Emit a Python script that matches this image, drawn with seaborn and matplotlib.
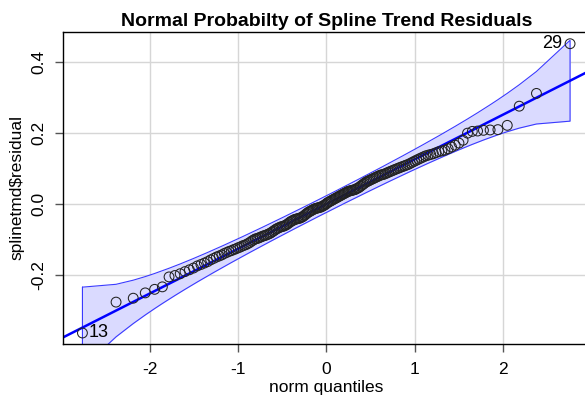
import numpy as np
import pandas as pd
import seaborn as sns
import matplotlib.pyplot as plt
from statistics import NormalDist

# sorted residuals (n = 173)
residuals = [
    -0.363, -0.276, -0.265, -0.250, -0.240, -0.233, -0.205, -0.201, -0.196, -0.190,
    -0.185, -0.180, -0.174, -0.170, -0.166, -0.162, -0.157, -0.153, -0.149, -0.146,
    -0.143, -0.139, -0.136, -0.133, -0.131, -0.128, -0.126, -0.123, -0.121, -0.118,
    -0.116, -0.114, -0.111, -0.108, -0.104, -0.101, -0.098, -0.097, -0.095, -0.093,
    -0.091, -0.089, -0.088, -0.086, -0.084, -0.082, -0.079, -0.076, -0.073, -0.070,
    -0.068, -0.066, -0.064, -0.063, -0.062, -0.060, -0.058, -0.055, -0.052, -0.049,
    -0.047, -0.045, -0.043, -0.042, -0.041, -0.040, -0.039, -0.037, -0.035, -0.032,
    -0.029, -0.026, -0.023, -0.021, -0.019, -0.017, -0.015, -0.013, -0.012, -0.011,
    -0.010, -0.009, -0.008, -0.006, -0.004, -0.002, 0.001, 0.004, 0.006, 0.008,
    0.010, 0.012, 0.014, 0.016, 0.018, 0.020, 0.022, 0.024, 0.026, 0.028,
    0.030, 0.032, 0.034, 0.036, 0.037, 0.038, 0.039, 0.040, 0.041, 0.043,
    0.045, 0.047, 0.050, 0.053, 0.056, 0.059, 0.062, 0.064, 0.066, 0.068,
    0.070, 0.072, 0.074, 0.076, 0.078, 0.080, 0.082, 0.083, 0.084, 0.086,
    0.088, 0.090, 0.092, 0.094, 0.096, 0.098, 0.100, 0.102, 0.104, 0.106,
    0.108, 0.110, 0.112, 0.115, 0.118, 0.121, 0.124, 0.127, 0.130, 0.133,
    0.136, 0.138, 0.140, 0.142, 0.145, 0.148, 0.150, 0.152, 0.156, 0.161,
    0.166, 0.172, 0.180, 0.200, 0.205, 0.206, 0.208, 0.209, 0.210, 0.222,
    0.276, 0.312, 0.452,
]
# labelled outliers: (observation id, rank in sorted order)
outliers = [(13, 0), (29, 172)]

# reference line
line_intercept = 0.0
line_slope = 0.126
envelope_level = 0.95

x_ticks = [-2, -1, 0, 1, 2]
y_ticks = [-0.2, 0.0, 0.2, 0.4]
y_ticklabels = ["-0.2", "0.0", "0.2", "0.4"]

# theoretical quantiles as car::qqPlot computes them (ppoints)
n = len(residuals)
nd = NormalDist()
P = np.array([(i + 0.5) / n for i in range(n)])
z = np.array([nd.inv_cdf(p) for p in P])
df = pd.DataFrame({"z": z, "res": residuals})

# confidence envelope
zz = nd.inv_cdf(1 - (1 - envelope_level) / 2)
dens = np.array([nd.pdf(v) for v in z])
se = (line_slope / dens) * np.sqrt(P * (1 - P) / n)
fit = line_intercept + line_slope * z
upper = fit + zz * se
lower = fit - zz * se

sns.set_style("white")
plt.rcParams["font.family"] = ["Liberation Sans", "DejaVu Sans"]
plt.rcParams["axes.unicode_minus"] = False
plt.rcParams["text.color"] = "black"
plt.rcParams["axes.labelcolor"] = "black"
plt.rcParams["xtick.color"] = "black"
plt.rcParams["ytick.color"] = "black"

fig = plt.figure(figsize=(5.85, 4.03), dpi=100)
ax = fig.add_axes([0.1077, 0.1464, 0.9, 0.7742])

ax.set_xlim(-2.98, 2.98)
ax.set_ylim(-0.394, 0.485)
ax.set_xticks(x_ticks)
ax.set_xticklabels([str(t) for t in x_ticks])
ax.set_yticks(y_ticks)
ax.set_yticklabels(y_ticklabels, rotation=90, va="center")
ax.grid(True, color="#d6d6d6", linewidth=1.0)
ax.set_axisbelow(True)

ax.fill_between(z, lower, upper, color="#dadaff", linewidth=0)
ax.plot(np.r_[z, z[::-1], z[0]], np.r_[upper, lower[::-1], upper[0]],
        color="#3a3aff", linewidth=0.8)

xl = np.array(ax.get_xlim())
ax.plot(xl, line_intercept + line_slope * xl, color="#0000ff", linewidth=1.8)

sns.scatterplot(data=df, x="z", y="res", ax=ax, marker="o", s=50,
                facecolor="none", edgecolor="#222222", linewidth=0.75, zorder=3)

for obs, k in outliers:
    if z[k] > 0:
        ax.text(z[k] - 0.09, residuals[k], str(obs), ha="right", va="center", fontsize=13)
    else:
        ax.text(z[k] + 0.07, residuals[k], str(obs), ha="left", va="center", fontsize=13)

ax.set_title("Normal Probabilty of Spline Trend Residuals", fontsize=14,
             fontweight="bold", pad=4, color="black")
ax.set_xlabel("norm quantiles", fontsize=12.5, labelpad=2)
ax.set_ylabel("splinetmd$residual", fontsize=12.5, labelpad=5)
ax.tick_params(axis="both", labelsize=12.5, length=6, width=1, color="#555555",
               labelcolor="black", direction="out", bottom=True, left=True)
ax.tick_params(axis="x", pad=7)
ax.tick_params(axis="y", pad=6)

for side in ["left", "bottom", "top", "right"]:
    ax.spines[side].set_visible(True)
    ax.spines[side].set_color("black")
    ax.spines[side].set_linewidth(1.0)

fig.savefig("out.png", dpi=100)
